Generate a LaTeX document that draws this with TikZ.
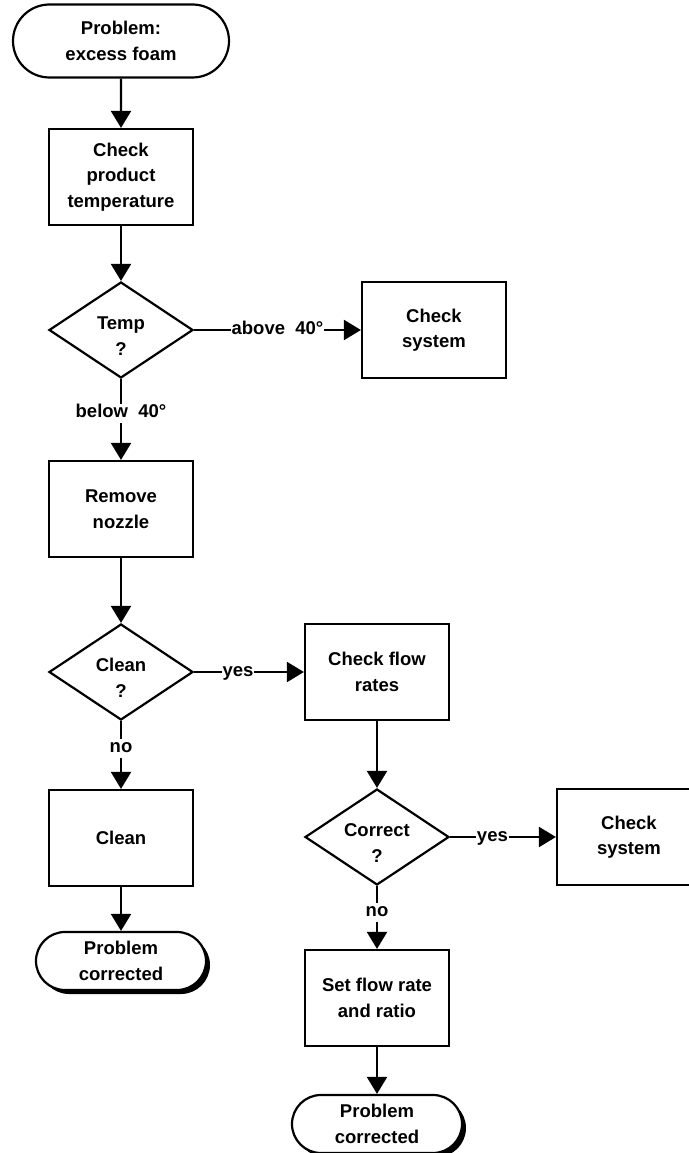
\documentclass[tikz,border=0pt]{standalone}
\usepackage{fontspec}
\setmainfont{Liberation Sans}
\usetikzlibrary{shapes.geometric, shapes.misc, arrows.meta, shadows}

\begin{document}
\begin{tikzpicture}[x=1pt, y=-1pt, line width=2.2pt,
    every node/.style={font=\bfseries\fontsize{18.5}{25.5}\selectfont, align=center},
    box/.style={draw, rectangle, minimum width=144pt, minimum height=96pt, inner sep=0pt},
    decision/.style={draw, diamond, aspect=1.5, minimum width=144pt, minimum height=96pt, inner sep=0pt,
        label={[yshift=-6pt]center:#1}},
    term/.style={draw, rounded rectangle, fill=white, inner sep=0pt},
    endterm/.style={term, minimum width=170pt, minimum height=58pt,
        drop shadow={shadow xshift=4pt, shadow yshift=-4pt, fill=black, opacity=1}},
    flow/.style={-{Triangle[length=17pt, width=20pt]}},
    lbl/.style={fill=white, inner sep=1pt, text height=13pt, text depth=4pt}]
    \useasboundingbox (0,0) rectangle (688,1153);

    % Colonne gauche
    \node[term, minimum width=216pt, minimum height=73pt] (start) at (121,41) {Problem:\\excess foam};
    \node[box] (chktemp) at (121,177) {Check\\product\\temperature};
    \node[decision={Temp\\?}] (temp) at (121,330) {};
    \node[box] (remove) at (121,509) {Remove\\nozzle};
    \node[decision={Clean\\?}] (clean) at (121,672) {};
    \node[box] (cleanbox) at (121,838) {Clean};
    \node[endterm] (done1) at (121,961) {Problem\\corrected};

    % Colonne droite
    \node[box] (chksys1) at (434,330) {Check\\system};
    \node[box] (flowrate) at (377,672) {Check flow\\rates};
    \node[decision={Correct\\?}] (correct) at (377,837) {};
    \node[box] (chksys2) at (629,837) {Check\\system};
    \node[box] (setflow) at (377,998) {Set flow rate\\and ratio};
    \node[endterm] (done2) at (377,1124) {Problem\\corrected};

    % Liaisons
    \draw[flow] (start) -- (chktemp);
    \draw[flow] (chktemp) -- (temp);
    \draw[flow] (temp) -- node[lbl] {above\ \ 40°} (chksys1);
    \draw[flow] (temp) -- node[lbl, pos=0.42] {below\ \ 40°} (remove);
    \draw[flow] (remove) -- (clean);
    \draw[flow] (clean) -- node[lbl, pos=0.4] {yes} (flowrate);
    \draw[flow] (clean) -- node[lbl, pos=0.4] {no} (cleanbox);
    \draw[flow] (cleanbox) -- (done1);
    \draw[flow] (flowrate) -- (correct);
    \draw[flow] (correct) -- node[lbl, pos=0.4] {yes} (chksys2);
    \draw[flow] (correct) -- node[lbl, pos=0.42] {no} (setflow);
    \draw[flow] (setflow) -- (done2);
\end{tikzpicture}
\end{document}
